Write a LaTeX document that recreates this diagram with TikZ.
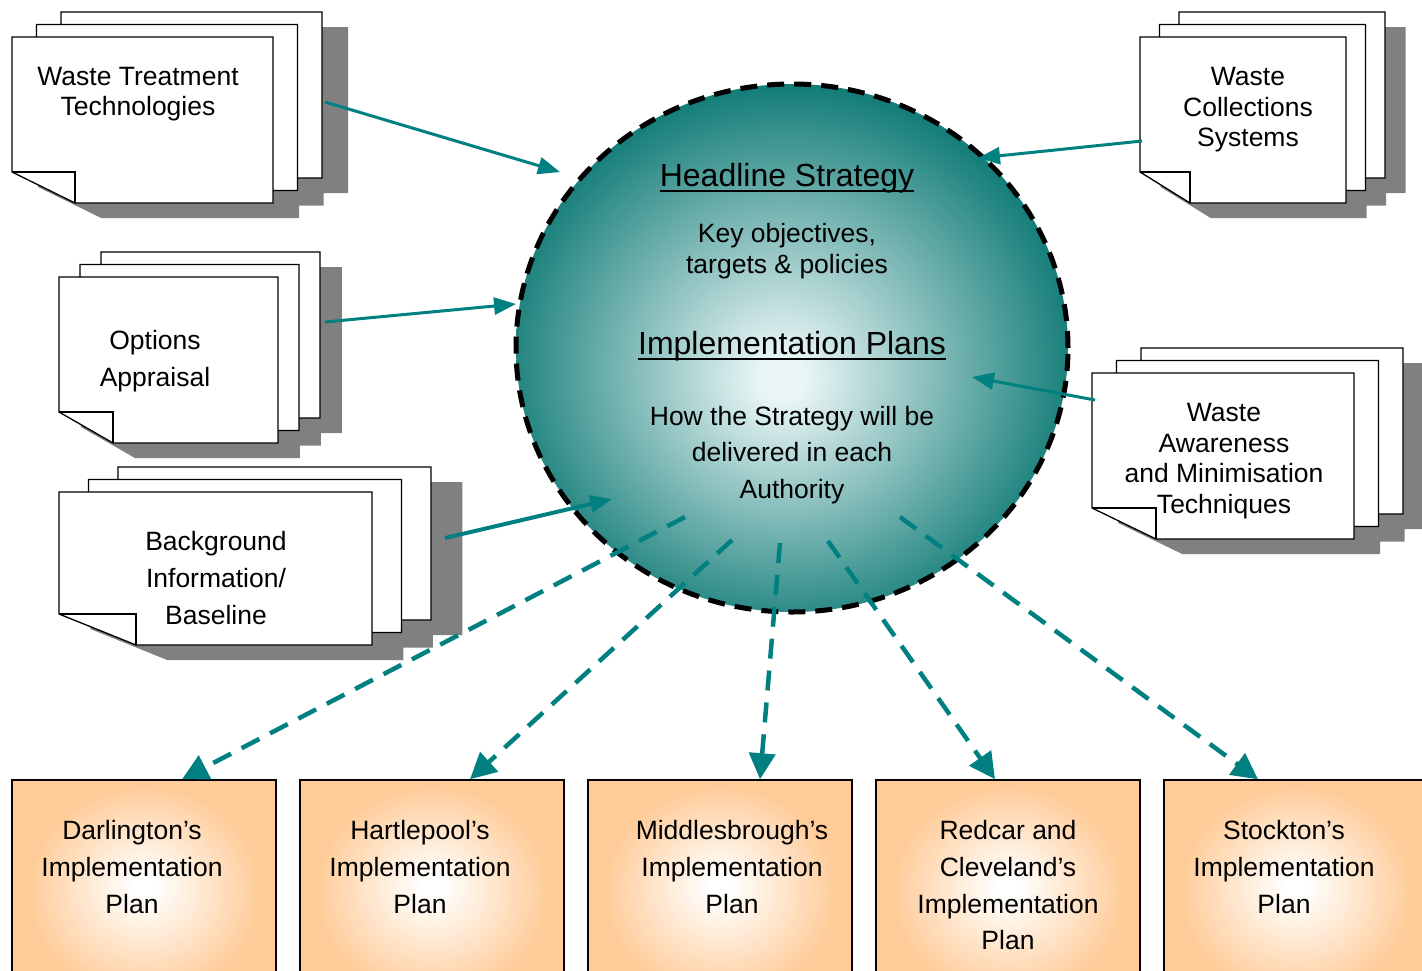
\documentclass[tikz,border=0pt]{standalone}
\usepackage{fontspec}
\setmainfont{Liberation Sans}
\usetikzlibrary{arrows.meta,shapes.geometric,positioning}

\definecolor{arrowteal}{RGB}{0,128,128}
\definecolor{globeteal}{RGB}{22,126,121}
\definecolor{globelight}{RGB}{234,246,246}
\definecolor{planpeach}{RGB}{255,204,153}
\definecolor{shadowgrey}{RGB}{128,128,128}

\pgfdeclareradialshading{globe}{\pgfpoint{-1bp}{-3bp}}{color(0bp)=(globelight); color(2bp)=(globelight); color(26bp)=(globeteal); color(50bp)=(globeteal)}
\pgfdeclareradialshading{peach}{\pgfpoint{0bp}{3bp}}{color(0bp)=(white); color(2bp)=(white); color(22bp)=(planpeach); color(50bp)=(planpeach)}

\begin{document}
\begin{tikzpicture}[x=1pt,y=-1pt]
	\tikzstyle{arrow}=[draw, arrowteal, line width=3pt, -{Triangle[length=22pt,width=17pt]}]
	\tikzstyle{dasharrow}=[draw, arrowteal, line width=4.5pt, dash pattern=on 20pt off 12pt, -{Triangle[length=26pt,width=26pt]}]
	\tikzstyle{sheet}=[draw, fill=white, line width=1.3pt, line join=miter]
	\tikzstyle{sheetshadow}=[fill=shadowgrey]
	\tikzstyle{doctext}=[align=center, inner sep=0pt, font=\fontsize{26.5}{30.5}\selectfont]
	\tikzstyle{widetext}=[align=center, inner sep=0pt, font=\fontsize{26.5}{36.7}\selectfont]
	\tikzstyle{headtext}=[inner sep=0pt, font=\fontsize{32}{38}\selectfont]
	\tikzstyle{plan}=[draw, line width=1.5pt, shading=peach, minimum width=264pt, minimum height=240pt, inner sep=0pt]

	% one page of a stack: style, left, top, width, height, fold
	\newcommand\Sheet[6]{\path[#1] ({#2},{#3}) -- ++({#4},0) -- ++(0,{#5}) -- ++({#6-(#4)},0) -- ++({-(#6)},-31) -- cycle;}
	% stack of three pages: left, top, width, height, step, fold
	\newcommand\Stack[6]{%
		\foreach \i in {2,1,0} {\Sheet{sheetshadow}{#1+\i*#5+0.1*#3}{#2-\i*12.5+15}{#3}{#4}{#6}}
		\foreach \i in {2,1,0} {\Sheet{sheet}{#1+\i*#5}{#2-\i*12.5}{#3}{#4}{#6}}
		\draw[sheet, fill=none] ({#1},{#2+#4-31}) -- ++({#6},0) -- ++(0,31);}
	\newcommand\Underlined[1]{\setbox0=\hbox{#1}\rlap{\rule[-6pt]{\wd0}{2pt}}\box0}

	\useasboundingbox (0,0) rectangle (1422,970);
	\clip (0,0) rectangle (1422,970);

	% Sources
	\Stack{12}{37}{261}{166}{24.5}{63}
	\Stack{1140}{37}{206}{166}{19.5}{50}
	\Stack{1092}{373}{262}{166}{24.5}{64}
	\Stack{59}{277}{219}{166}{21}{54}
	\Stack{59}{492}{313}{153}{29.5}{77}

	\node [doctext] at (138,94) (treat) {Waste Treatment\\Technologies};
	\node [doctext] at (1248,110) (collect) {Waste\\Collections\\Systems};
	\node [doctext] at (1224,461) (aware) {Waste\\Awareness\\and Minimisation\\Techniques};
	\node [widetext] at (155,361) (options) {Options\\Appraisal};
	\node [widetext] at (216,578) (baseline) {Background\\Information/\\Baseline};

	% Strategy
	\node [draw, ellipse, shading=globe, line width=5pt, dash pattern=on 17pt off 10pt, minimum width=552pt, minimum height=528pt, inner sep=0pt] at (792,348) (strategy) {};
	\node [headtext] at (787,178) (headline) {\Underlined{Headline Strategy}};
	\node [doctext] at (787,251) (objectives) {Key objectives,\\targets \& policies};
	\node [headtext] at (792,346) (implement) {\Underlined{Implementation Plans}};
	\node [widetext] at (792,455) (delivery) {How the Strategy will be\\delivered in each\\Authority};

	% Plans
	\node [plan] at (144,900) (darl) {};
	\node [plan] at (432,900) (hart) {};
	\node [plan] at (720,900) (middle) {};
	\node [plan] at (1008,900) (redcar) {};
	\node [plan] at (1296,900) (stock) {};
	\node [widetext, anchor=north] at ([xshift=-12pt, yshift=-41pt]darl.north) (darl-text) {Darlington’s\\Implementation\\Plan};
	\node [widetext, anchor=north] at ([xshift=-12pt, yshift=-41pt]hart.north) (hart-text) {Hartlepool’s\\Implementation\\Plan};
	\node [widetext, anchor=north] at ([xshift=12pt, yshift=-41pt]middle.north) (middle-text) {Middlesbrough’s\\Implementation\\Plan};
	\node [widetext, anchor=north] at ([yshift=-41pt]redcar.north) (redcar-text) {Redcar and\\Cleveland’s\\Implementation\\Plan};
	\node [widetext, anchor=north] at ([xshift=-12pt, yshift=-41pt]stock.north) (stock-text) {Stockton’s\\Implementation\\Plan};

	% Path Arrows
	\coordinate (treat-out) at (325,102);
	\coordinate (treat-in) at (560,172);
	\coordinate (collect-out) at (1142,141);
	\coordinate (collect-in) at (978,158);
	\coordinate (options-out) at (325,322);
	\coordinate (options-in) at (516,304);
	\coordinate (baseline-out) at (445,538);
	\coordinate (baseline-in) at (612,499);
	\coordinate (aware-out) at (1095,400);
	\coordinate (aware-in) at (972,377);
	\path [arrow] (treat-out) -- (treat-in);
	\path [arrow] (collect-out) -- (collect-in);
	\path [arrow] (options-out) -- (options-in);
	\path [arrow, line width=4pt] (baseline-out) -- (baseline-in);
	\path [arrow] (aware-out) -- (aware-in);

	\coordinate (out-darl) at (685,517);
	\coordinate (out-hart) at (732,540);
	\coordinate (out-middle) at (780,543);
	\coordinate (out-redcar) at (828,541);
	\coordinate (out-stock) at (900,517);
	\path [dasharrow] (out-darl) -- ([xshift=38pt]darl.north);
	\path [dasharrow] (out-hart) -- ([xshift=38pt]hart.north);
	\path [dasharrow] (out-middle) -- ([xshift=40pt]middle.north);
	\path [dasharrow] (out-redcar) -- ([xshift=-13pt]redcar.north);
	\path [dasharrow] (out-stock) -- ([xshift=-38pt]stock.north);
\end{tikzpicture}
\end{document}
